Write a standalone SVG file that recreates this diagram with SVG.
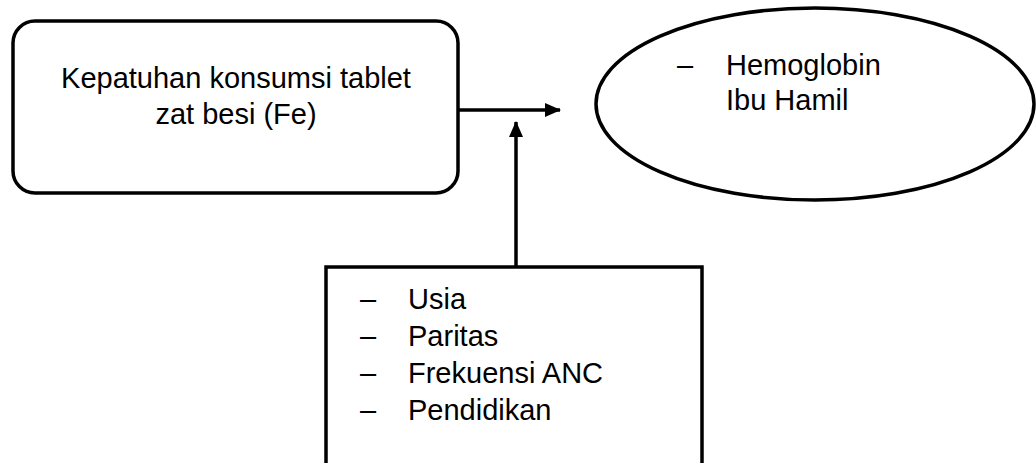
<svg xmlns="http://www.w3.org/2000/svg" width="1036" height="463" viewBox="0 0 1036 463">
<style>
.shape{fill:#fff;stroke:#000;stroke-width:3.5}
.t{font-family:"Liberation Sans",Arial,sans-serif;font-size:29px;fill:#000}
.line{stroke:#000;stroke-width:3.5;fill:none}
</style>
<defs>
<marker id="ah" markerUnits="userSpaceOnUse" markerWidth="16" markerHeight="16" viewBox="0 0 16 16" refX="15" refY="8" orient="auto">
<path d="M0,1 L16,8 L0,15 Z" fill="#000"/>
</marker>
</defs>
<rect width="1036" height="463" fill="#fff"/>
<g id="node-kepatuhan">
<rect class="shape" x="13" y="21" width="445" height="172" rx="22" ry="22"/>
<text class="t" x="236" y="88" text-anchor="middle">Kepatuhan konsumsi tablet</text>
<text class="t" x="236" y="124" text-anchor="middle">zat besi (Fe)</text>
</g>
<g id="node-hemoglobin">
<ellipse class="shape" cx="815" cy="104" rx="219" ry="96"/>
<text class="t" x="677" y="75">–</text>
<text class="t" x="726" y="75">Hemoglobin</text>
<text class="t" x="726" y="110">Ibu Hamil</text>
</g>
<g id="node-faktor">
<rect class="shape" x="326" y="267" width="376" height="220"/>
<text class="t" x="360" y="309">–</text>
<text class="t" x="408" y="309">Usia</text>
<text class="t" x="360" y="346">–</text>
<text class="t" x="408" y="346">Paritas</text>
<text class="t" x="360" y="383">–</text>
<text class="t" x="408" y="383">Frekuensi ANC</text>
<text class="t" x="360" y="420">–</text>
<text class="t" x="408" y="420">Pendidikan</text>
</g>
<g id="connectors">
<line class="line" x1="458" y1="110" x2="560" y2="110" marker-end="url(#ah)"/>
<line class="line" x1="516" y1="267" x2="516" y2="122" marker-end="url(#ah)"/>
</g>
</svg>
